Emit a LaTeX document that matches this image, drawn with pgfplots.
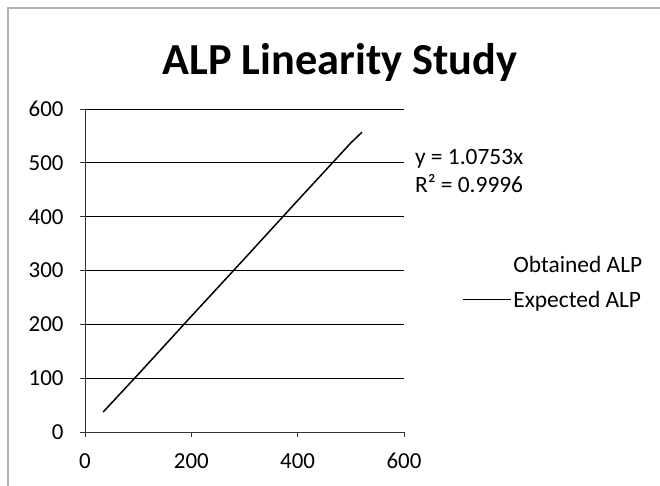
\documentclass[border=0pt]{standalone}
\usepackage{pgfplots}
\pgfplotsset{compat=1.18}
\usepackage{fontspec}
\setmainfont{Carlito}
\begin{document}
\begin{tikzpicture}[x=1bp,y=1bp]
\path[use as bounding box] (0,0) rectangle (660,486);
\draw[gray!60, line width=1.2bp] (8,0) -- (8,478) -- (660,478);
\begin{axis}[
  at={(85bp,54bp)}, anchor=south west,
  scale only axis, width=319bp, height=323bp,
  xmin=0, xmax=600, ymin=0, ymax=600,
  axis x line=bottom, axis y line=left,
  axis line style={-, black!80, line width=0.8bp},
  xtick={0,200,400,600}, ytick={0,100,200,300,400,500,600},
  tick align=outside, major tick length=5bp,
  tick style={black!80, line width=0.8bp},
  ymajorgrids, grid style={black, line width=0.9bp},
  ticklabel style={font=\fontsize{23}{27}\selectfont},
  /pgf/number format/assume math mode=true,
  yticklabel style={xshift=-13bp},
  xticklabel style={yshift=-13bp},
  clip=false,
  legend style={draw=none, fill=none, at={(1.182,0.463)}, anchor=west,
    font=\fontsize{23.5}{28}\selectfont, row sep=13bp, inner sep=0pt},
  legend cell align=left,
]
\addplot[draw=none, mark=none, legend image code/.code={\path (0bp,0bp) -- (48bp,0bp);}]
  coordinates {(34,37) (100,107) (200,215) (300,322) (400,430) (500,537) (521,557)};
\addlegendentry{Obtained ALP}
\addplot[black, line width=1.5bp, mark=none, legend image code/.code={\draw[black, line width=1.1bp] (0bp,0bp) -- (48bp,0bp);}]
  coordinates {(34,37) (100,107) (200,215) (300,322) (400,430) (500,537) (521,557)};
\addlegendentry{Expected ALP}
\node[anchor=west, align=left, font=\fontsize{23.5}{29}\selectfont, inner sep=0pt]
  at (rel axis cs:1.034,0.808) {y = 1.0753x\\R² = 0.9996};
\end{axis}
\node[font=\bfseries\fontsize{44.5}{50}\selectfont] at (340,424) {ALP Linearity Study};
\end{tikzpicture}
\end{document}
